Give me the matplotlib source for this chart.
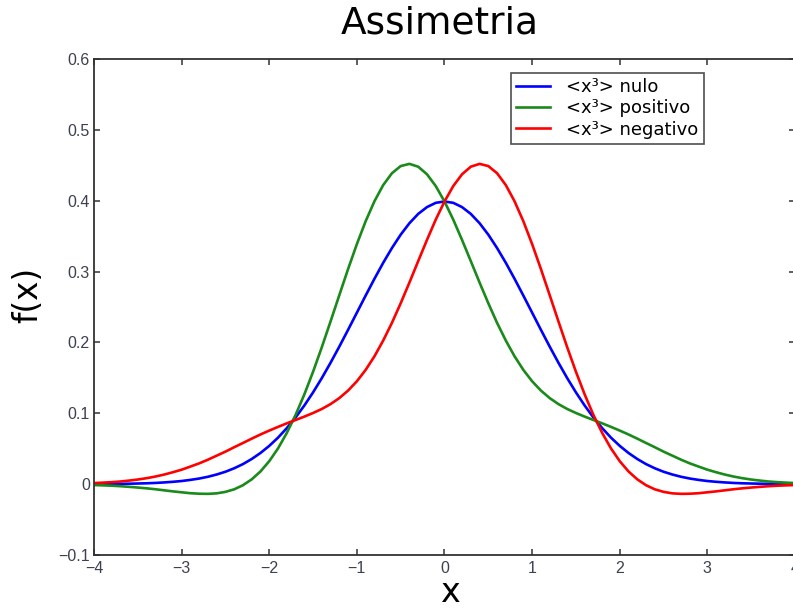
import matplotlib
matplotlib.use("Agg")
import matplotlib.pyplot as plt

# Sample positions
x = [round(-4.0 + 0.1 * i, 1) for i in range(81)]

# Symmetric case, values for x = 0.0 .. 4.0
nulo_half = [0.3989, 0.3970, 0.3910, 0.3814, 0.3683, 0.3521, 0.3332, 0.3123, 0.2897, 0.2661,
             0.2420, 0.2179, 0.1942, 0.1714, 0.1497, 0.1295, 0.1109, 0.0940, 0.0790, 0.0656,
             0.0540, 0.0440, 0.0355, 0.0283, 0.0224, 0.0175, 0.0136, 0.0104, 0.0079, 0.0060,
             0.0044, 0.0033, 0.0024, 0.0017, 0.0012, 0.0009, 0.0006, 0.0004, 0.0003, 0.0002,
             0.0001]

# Skewed curve, long-tail side, x = 0.0 .. 4.0
tail_side = [0.3989, 0.3733, 0.3447, 0.3148, 0.2846, 0.2553, 0.2276, 0.2026, 0.1803, 0.1612,
             0.1452, 0.1321, 0.1215, 0.1130, 0.1061, 0.1004, 0.0953, 0.0905, 0.0858, 0.0808,
             0.0756, 0.0701, 0.0642, 0.0581, 0.0521, 0.0459, 0.0402, 0.0345, 0.0293, 0.0248,
             0.0204, 0.0168, 0.0135, 0.0107, 0.0084, 0.0065, 0.0050, 0.0037, 0.0028, 0.0021,
             0.0015]

# Skewed curve, peak side, x = 0.0 .. 4.0
peak_side = [0.3989, 0.4207, 0.4373, 0.4480, 0.4520, 0.4489, 0.4388, 0.4220, 0.3991, 0.3710,
             0.3388, 0.3037, 0.2669, 0.2298, 0.1933, 0.1586, 0.1265, 0.0975, 0.0722, 0.0504,
             0.0324, 0.0179, 0.0068, -0.0015, -0.0073, -0.0109, -0.0130, -0.0137, -0.0135, -0.0128,
             -0.0115, -0.0102, -0.0087, -0.0072, -0.0059, -0.0048, -0.0038, -0.0029, -0.0022, -0.0017,
             -0.0013]

nulo = nulo_half[:0:-1] + nulo_half
positivo = peak_side[:0:-1] + tail_side
negativo = tail_side[:0:-1] + peak_side

labels = ["<x³> nulo", "<x³> positivo", "<x³> negativo"]
colors = ["#0000ff", "#1a8a1a", "#ff0000"]

xticks = [-4, -3, -2, -1, 0, 1, 2, 3, 4]
yticks = [-0.1, 0, 0.1, 0.2, 0.3, 0.4, 0.5, 0.6]
ytick_labels = ["\u22120.1", "0", "0.1", "0.2", "0.3", "0.4", "0.5", "0.6"]
xtick_labels = ["\u22124", "\u22123", "\u22122", "\u22121", "0", "1", "2", "3", "4"]

W, H = 793, 609
fig = plt.figure(figsize=(W / 100, H / 100), dpi=100)
ax = fig.add_axes([94 / W, 54 / H, (795 - 94) / W, (555 - 59) / H])

for series, lab, col in zip([nulo, positivo, negativo], labels, colors):
    ax.plot(x, series, color=col, lw=1.9, label=lab)

ax.set_xlim(-4, 4)
ax.set_ylim(-0.1, 0.6)
ax.set_xticks(xticks)
ax.set_xticklabels(xtick_labels)
ax.set_yticks(yticks)
ax.set_yticklabels(ytick_labels)

tick_col = "#3c4050"
ax.tick_params(direction="in", length=4, width=1.1, color="#333333",
               top=True, right=True, labelsize=11.5, labelcolor=tick_col)
ax.tick_params(axis="x", pad=4)
ax.tick_params(axis="y", pad=3)
for lab in ax.get_xticklabels() + ax.get_yticklabels():
    lab.set_family("Liberation Sans")
for s in ax.spines.values():
    s.set_color("#333333")
    s.set_linewidth(1.3)

fig.text(440 / W, 1 - 24 / H, "Assimetria", ha="center", va="center",
         fontsize=27, family="DejaVu Sans")
fig.text(28 / W, 1 - 295 / H, "f(x)", ha="center", va="center", rotation=90,
         fontsize=23.5, family="DejaVu Sans")
fig.text(450 / W, 1 - 593 / H, "x", ha="center", va="center",
         fontsize=24, family="DejaVu Sans")

leg = ax.legend(loc="upper left", bbox_to_anchor=((511 - 94) / (795 - 94), 1 - (73 - 59) / (555 - 59)),
                fontsize=13, frameon=True, fancybox=False, handlelength=1.85,
                handletextpad=0.9, labelspacing=0.17, borderpad=0.3, borderaxespad=0)
leg.get_frame().set_edgecolor("#222222")
leg.get_frame().set_linewidth(1.2)

fig.savefig("out.png", dpi=100)
